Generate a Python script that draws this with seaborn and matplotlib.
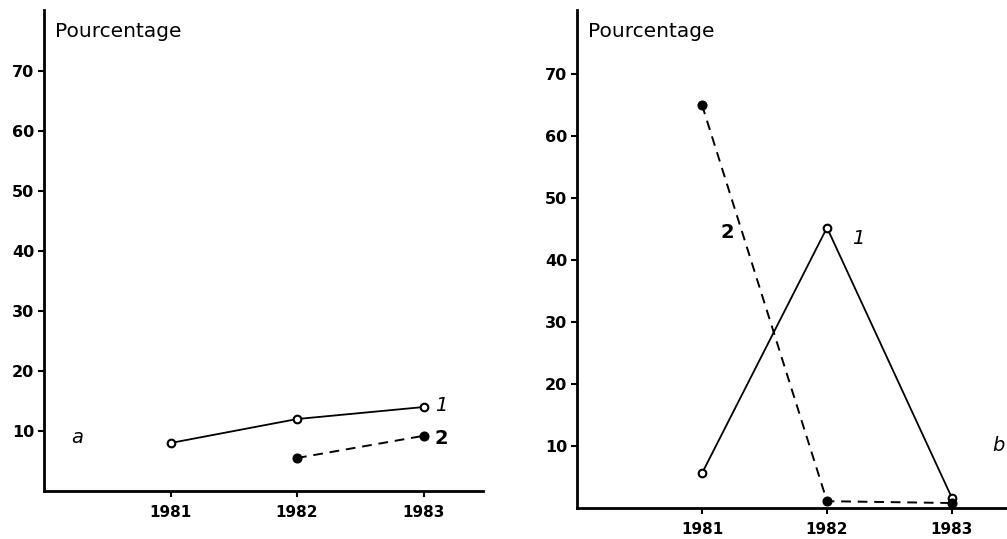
import matplotlib
matplotlib.use("Agg")
import matplotlib.pyplot as plt
import seaborn as sns
import pandas as pd

years = [1981, 1982, 1983]
yticks = [10, 20, 30, 40, 50, 60, 70]
ylabel = "Pourcentage"

# Panel a
a_s1_years = [1981, 1982, 1983]
a_s1_vals = [8, 12, 14]
a_s2_years = [1982, 1983]
a_s2_vals = [5.5, 9.2]

# Panel b
b_s1_years = [1981, 1982, 1983]
b_s1_vals = [5.6, 45.2, 1.6]
b_s2_years = [1981, 1982, 1983]
b_s2_vals = [65, 1.1, 0.8]

sns.set_style("ticks")
plt.rcParams['font.family'] = ['DejaVu Sans']
plt.rcParams['text.color'] = 'black'

fig = plt.figure(figsize=(10.07, 5.39), dpi=100)
axa = fig.add_axes([44/1007, 48/539, 439/1007, 481/539])
axb = fig.add_axes([577/1007, 31/539, 430/1007, 498/539])


def draw(ax, s1x, s1y, s2x, s2y, ymax, xmax):
    d1 = pd.DataFrame({"year": s1x, "val": s1y})
    d2 = pd.DataFrame({"year": s2x, "val": s2y})
    sns.lineplot(data=d1, x="year", y="val", ax=ax, color="black", lw=1.3,
                 marker="o", markersize=5.5, markerfacecolor="white",
                 markeredgecolor="black", markeredgewidth=1.5, zorder=3)
    sns.lineplot(data=d2, x="year", y="val", ax=ax, color="black", lw=1.4,
                 linestyle=(0, (5, 3.5)), marker="o", markersize=6.5,
                 markerfacecolor="black", markeredgecolor="black", zorder=3)
    ax.set_xlim(1980, xmax)
    ax.set_ylim(0, ymax)
    ax.set_xticks(years)
    ax.set_xticklabels([str(y) for y in years], fontsize=11, fontweight="bold")
    ax.set_yticks(yticks)
    ax.set_yticklabels([str(y) for y in yticks], fontsize=11.5, fontweight="bold")
    ax.set_xlabel("")
    ax.set_ylabel("")
    for s in ["top", "right"]:
        ax.spines[s].set_visible(False)
    for s in ["left", "bottom"]:
        ax.spines[s].set_linewidth(2)
        ax.spines[s].set_color("black")
    ax.tick_params(axis="both", direction="out", length=4, width=1.5,
                   colors="black", labelcolor="black", pad=3)
    ax.tick_params(axis="x", pad=6)
    ax.text(0.025, 0.975, ylabel, transform=ax.transAxes, fontsize=14.5,
            ha="left", va="top", color="black")
    ax.set_facecolor("white")


draw(axa, a_s1_years, a_s1_vals, a_s2_years, a_s2_vals, 80.2, 1983.47)
draw(axb, b_s1_years, b_s1_vals, b_s2_years, b_s2_vals, 80.3, 1983.44)

axa.text(1980.26, 9, "a", fontsize=14, style="italic", ha="center", va="center")
axa.text(1983.14, 14.2, "1", fontsize=14, style="italic", ha="center", va="center")
axa.text(1983.14, 8.8, "2", fontsize=14, fontweight="bold", ha="center", va="center")

axb.text(1981.2, 44.5, "2", fontsize=14, fontweight="bold", ha="center", va="center")
axb.text(1982.25, 43.5, "1", fontsize=14, style="italic", ha="center", va="center")
axb.text(1983.37, 10, "b", fontsize=14, style="italic", ha="center", va="center",
         clip_on=False)

fig.savefig("out.png", dpi=100, facecolor="white")
